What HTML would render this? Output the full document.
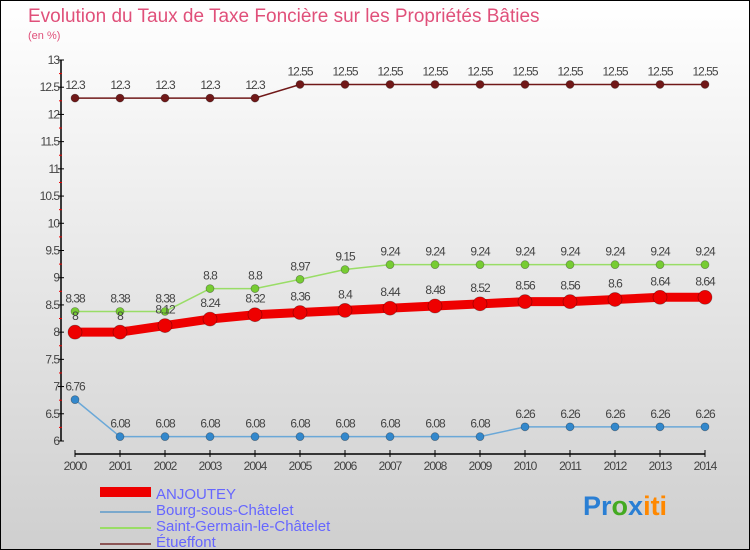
<!DOCTYPE html>
<html><head><meta charset="utf-8"><style>
body{margin:0}
#c{width:750px;height:550px;position:relative;box-sizing:border-box;border:1px solid #000;background:linear-gradient(#ffffff,#cfcfcf);font-family:"Liberation Sans",sans-serif;overflow:hidden}
</style></head><body>
<div id="c">
<svg id="s" width="750" height="550" style="position:absolute;left:-1px;top:-1px">
<text x="28" y="22" font-size="19" fill="#e0507a">Evolution du Taux de Taxe Foncière sur les Propriétés Bâties</text>
<text x="28" y="39" font-size="11" fill="#e0507a">(en %)</text>
<g id="plot"></g>
<rect x="100" y="487" width="51" height="10" fill="#ee0000"/>
<rect x="100" y="511" width="51" height="2" fill="#7aa8cc"/>
<rect x="100" y="527" width="51" height="2" fill="#99dd66"/>
<rect x="100" y="543" width="51" height="2" fill="#8b5555"/>
<g font-size="15" fill="#6666ff">
<text x="156" y="499">ANJOUTEY</text>
<text x="156" y="515">Bourg-sous-Châtelet</text>
<text x="156" y="531">Saint-Germain-le-Châtelet</text>
<text x="156" y="547">Étueffont</text>
</g>
<text x="583" y="515" font-size="27" font-weight="bold"><tspan fill="#2a7fd4">Pr</tspan><tspan fill="#44aa22">o</tspan><tspan fill="#2a7fd4">x</tspan><tspan fill="#ff8800">iti</tspan></text>
</svg>
</div>
<script>
const years=[2000,2001,2002,2003,2004,2005,2006,2007,2008,2009,2010,2011,2012,2013,2014];
const anjoutey=[8,8,8.12,8.24,8.32,8.36,8.4,8.44,8.48,8.52,8.56,8.56,8.6,8.64,8.64];
const bourg=[6.76,6.08,6.08,6.08,6.08,6.08,6.08,6.08,6.08,6.08,6.26,6.26,6.26,6.26,6.26];
const saintGermain=[8.38,8.38,8.38,8.8,8.8,8.97,9.15,9.24,9.24,9.24,9.24,9.24,9.24,9.24,9.24];
const etueffont=[12.3,12.3,12.3,12.3,12.3,12.55,12.55,12.55,12.55,12.55,12.55,12.55,12.55,12.55,12.55];
const yTicks=[6,6.5,7,7.5,8,8.5,9,9.5,10,10.5,11,11.5,12,12.5,13];
const NS="http://www.w3.org/2000/svg";
const g=document.getElementById('plot');
function X(i){return 75+i*45;}
function Y(v){return 441-(v-6)*54.43;}
function mk(t,a){const e=document.createElementNS(NS,t);for(const k in a)e.setAttribute(k,a[k]);g.appendChild(e);return e;}
let e;
e=mk('line',{x1:61,y1:Y(13),x2:61,y2:Y(6),stroke:'#000','stroke-width':1.5});


e=mk('line',{x1:X(0),y1:454,x2:X(14),y2:454,stroke:'#000','stroke-width':1.5});


yTicks.forEach((v,i)=>{
 e=mk('line',{x1:58,y1:Y(v),x2:64,y2:Y(v),stroke:'#000'});
 
 
 if(i<yTicks.length-1){e=mk('line',{x1:59,y1:Y(v+0.25),x2:62,y2:Y(v+0.25),stroke:'#e00'});
 
 }
 e=mk('text',{x:59,y:Y(v)+4,'font-size':12,'text-anchor':'end',fill:'#444','letter-spacing':'-1'});
 e.textContent=String(v);
 
 
});
years.forEach((yr,i)=>{
 e=mk('line',{x1:X(i),y1:450,x2:X(i),y2:457,stroke:'#000'});
 
 
 e=mk('text',{x:X(i),y:470,'font-size':12,'text-anchor':'middle',fill:'#444','letter-spacing':'-1'});
 e.textContent=yr;
 
 
});
function series(vals,color,dot,w,r,name,labDy){
 e=mk('polyline',{points:vals.map((v,i)=>X(i)+','+Y(v)).join(' '),fill:'none',stroke:color,'stroke-width':w});
 
 
 vals.forEach((v,i)=>{
  e=mk('circle',{cx:X(i),cy:Y(v),r:r,fill:dot,stroke:'rgba(0,0,0,0.35)','stroke-width':0.7});
  
  
  e=mk('text',{x:X(i),y:Y(v)-labDy,'font-size':12,'text-anchor':'middle',fill:'#444','letter-spacing':'-1'});
  e.textContent=String(v);
  
  
 });
}
series(etueffont,'#701818','#701818',1.5,4,'etueffont',9);
series(saintGermain,'#99dd66','#77cc33',1.5,4,'saint-germain',9);
series(bourg,'#6aa8d8','#3388cc',1.5,4,'bourg',9);
series(anjoutey,'#ee0000','#ee0000',9,7,'anjoutey',12);
</script>
</body></html>
